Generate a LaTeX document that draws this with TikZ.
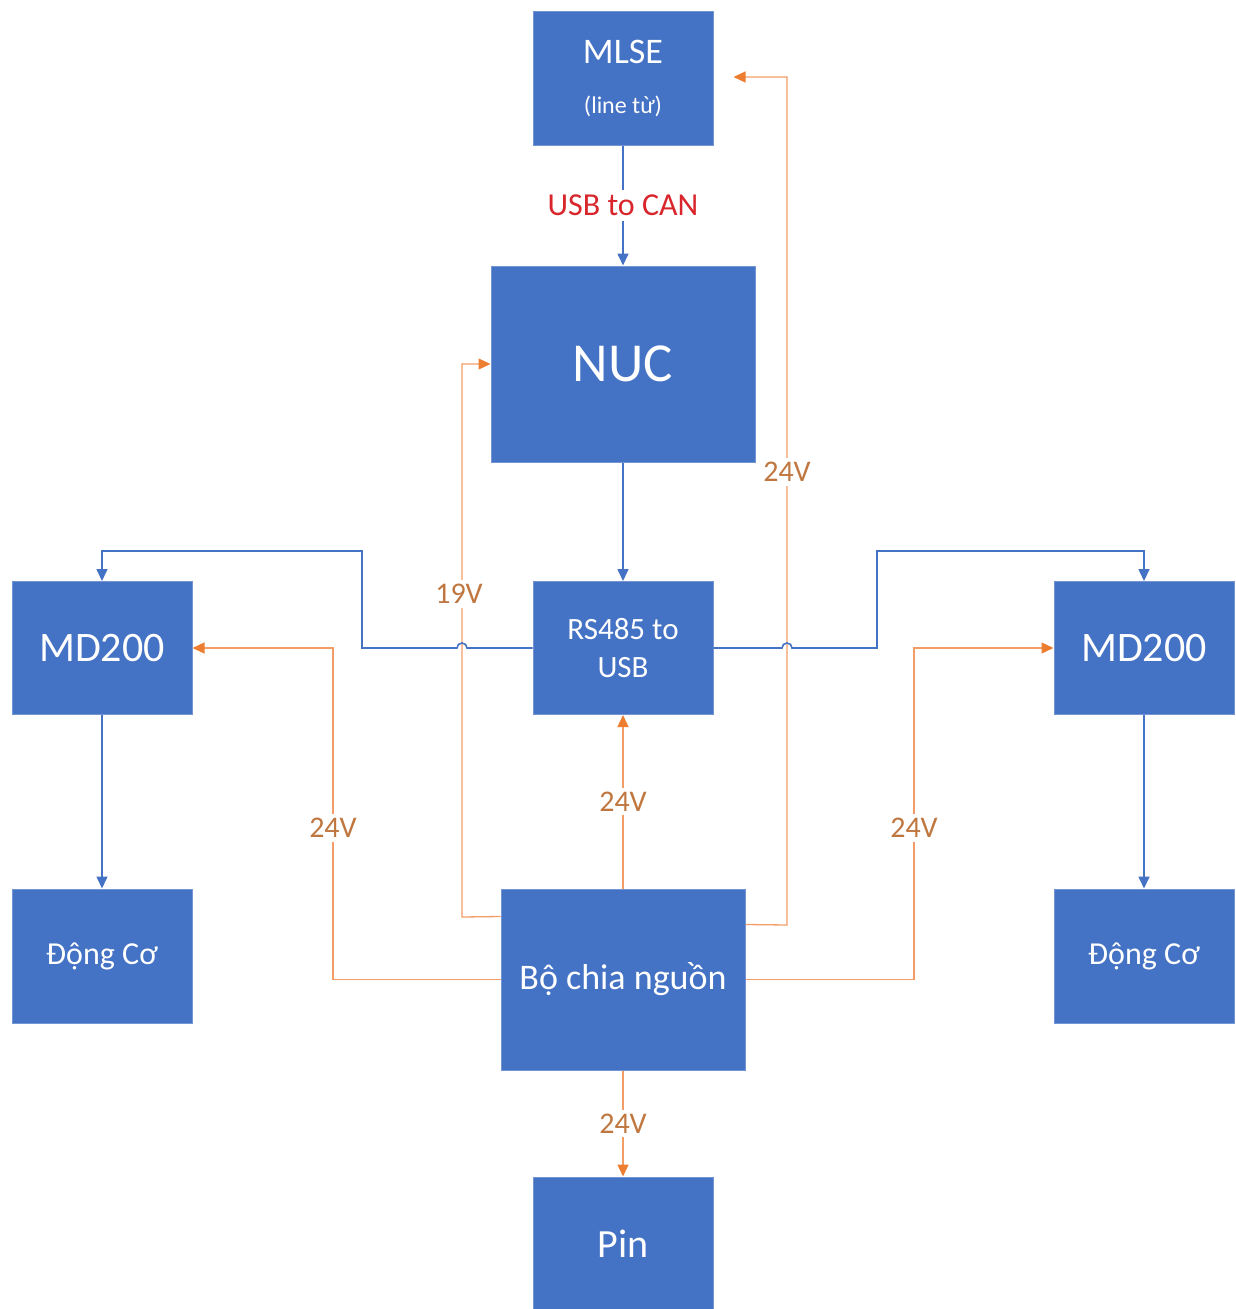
\documentclass[tikz,border=0pt]{standalone}
\usepackage{fontspec}
\setmainfont{Carlito}
\usetikzlibrary{arrows.meta,calc}
\definecolor{boxblue}{HTML}{4472C4}
\definecolor{pwr}{HTML}{ED7D31}
\definecolor{lbl}{HTML}{C0773F}
\definecolor{canred}{HTML}{D8262C}
\begin{document}
\begin{tikzpicture}[x=1pt,y=-1pt,
  blk/.style={fill=boxblue, draw=boxblue!75!white, line width=1pt, inner sep=0pt, text=white, align=center},
  txt/.style={text=white, inner sep=0pt, align=center},
  sig/.style={draw=boxblue, line width=1.6pt, -{Triangle[length=12pt,width=11pt]}},
  pwrarrow/.style={draw=pwr!75!white, line width=1.3pt, -{Triangle[length=12pt,width=11pt,color=pwr]}},
  vlabel/.style={fill=white, text=lbl, inner sep=4pt, font=\fontsize{30}{32}\selectfont}
]
\useasboundingbox (0,0) rectangle (1235,1309);

% blocks
\node[blk, minimum width=180pt, minimum height=134pt] (mlse) at (623,78) {};
\node[txt, font=\fontsize{36}{40}\selectfont] (mlset) at (623,52) {MLSE};
\node[txt, font=\fontsize{24}{28}\selectfont] (mlses) at (623,106) {(line từ)};

\node[blk, minimum width=264pt, minimum height=196pt, font=\fontsize{55}{60}\selectfont] (nuc) at (623,364) {NUC};

\node[blk, minimum width=180pt, minimum height=133pt, font=\fontsize{31}{38}\selectfont] (rs) at (623,648) {RS485 to\\USB};

\node[blk, minimum width=180pt, minimum height=133pt, font=\fontsize{42}{46}\selectfont] (mdl) at (102,648) {MD200};
\node[blk, minimum width=180pt, minimum height=133pt, font=\fontsize{42}{46}\selectfont] (mdr) at (1144,648) {MD200};

\node[blk, minimum width=180pt, minimum height=134pt, font=\fontsize{32}{36}\selectfont] (dcl) at (102,956) {Động Cơ};
\node[blk, minimum width=180pt, minimum height=134pt, font=\fontsize{32}{36}\selectfont] (dcr) at (1144,956) {Động Cơ};

\node[blk, minimum width=244pt, minimum height=181pt, font=\fontsize{36}{40}\selectfont] (bo) at (623,979.5) {Bộ chia nguồn};

\node[blk, minimum width=180pt, minimum height=134pt, font=\fontsize{40}{44}\selectfont] (pin) at (623,1244) {Pin};

% power connectors (orange)
\draw[pwrarrow] (bo) -- node[vlabel]{24V} (rs);
\draw[pwrarrow] ($(bo.north west)+(0,28)$) -- (462,917) -- (462,364) -- (nuc.west);
\node[vlabel] (l19) at (459,594) {19V};
\draw[pwrarrow] ($(bo.north east)+(0,36)$) -- (787,925) -- (787,77) -- ($(mlse.east)+(20,-1)$);
\node[vlabel] (l24a) at (787,472) {24V};
\draw[pwrarrow] (bo.west) -- (333,979.5) -- (333,648) -- (mdl.east);
\node[vlabel] (l24b) at (333,828) {24V};
\draw[pwrarrow] (bo.east) -- (914,979.5) -- (914,648) -- (mdr.west);
\node[vlabel] (l24c) at (914,828) {24V};
\draw[pwrarrow] (bo) -- node[vlabel]{24V} (pin);

% signal connectors (blue)
\draw[sig] (mlse) -- node[fill=white, text=canred, inner sep=5pt, font=\fontsize{32}{34}\selectfont]{USB to CAN} (nuc);
\draw[sig] (nuc) -- (rs);
\draw[sig] (rs.west) -- (467,648) arc[start angle=0, end angle=-180, radius=5] -- (362,648) -- (362,551) -| (mdl.north);
\draw[sig] (rs.east) -- (782,648) arc[start angle=180, end angle=360, radius=5] -- (877,648) -- (877,551) -| (mdr.north);
\draw[sig] (mdl) -- (dcl);
\draw[sig] (mdr) -- (dcr);
\end{tikzpicture}
\end{document}
